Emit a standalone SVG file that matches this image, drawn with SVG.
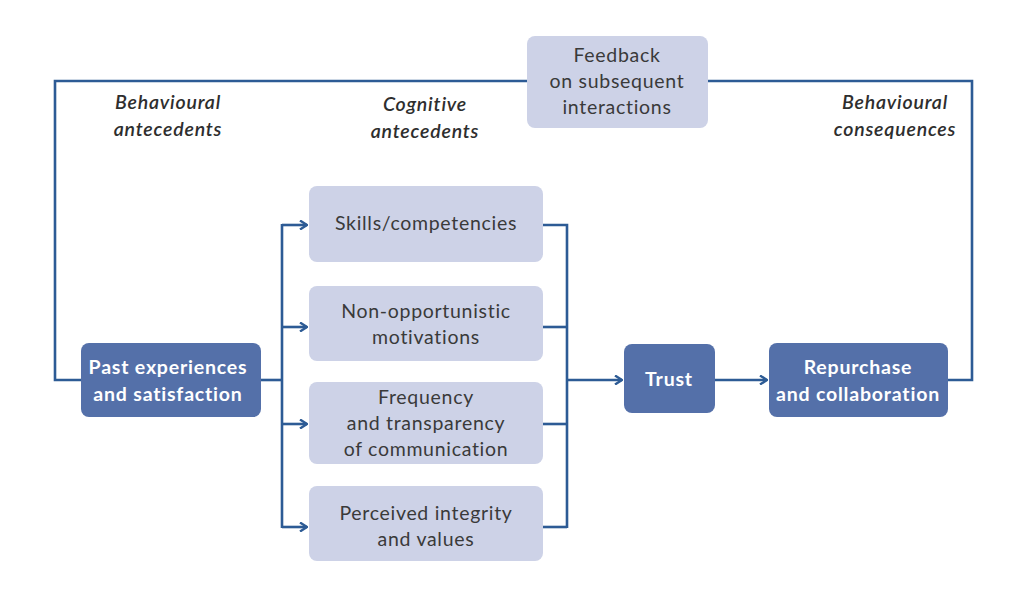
<svg xmlns="http://www.w3.org/2000/svg" width="1024" height="597" viewBox="0 0 1024 597">
  <style>
    .light { fill: #cdd2e7; }
    .dark { fill: #5470a9; }
    .txt { font-family: Lato, "Open Sans", sans-serif; font-size: 19.5px; letter-spacing: 0.7px; fill: #3a3a3a; text-anchor: middle; }
    .wtxt { font-family: Lato, "Open Sans", sans-serif; font-size: 19.5px; letter-spacing: 0.8px; font-weight: bold; fill: #ffffff; text-anchor: middle; }
    .head { font-family: Lato, "Open Sans", sans-serif; font-size: 19.5px; letter-spacing: 0.8px; font-style: italic; font-weight: 600; fill: #2e2e2e; text-anchor: middle; }
    .wire { fill: none; stroke: #2d5b95; stroke-width: 2.6; }
  </style>
  <defs>
    <marker id="chev" viewBox="0 0 10 10" refX="9" refY="5" markerWidth="10" markerHeight="10" markerUnits="userSpaceOnUse" orient="auto">
      <polyline points="2,0.5 9,5 2,9.5" fill="none" stroke="#2d5b95" stroke-width="2.4"/>
    </marker>
  </defs>

  <!-- Connectors -->
  <g id="connectors">
    <!-- feedback loop -->
    <polyline class="wire" points="81,380 55,380 55,81 527,81"/>
    <polyline class="wire" points="708,81 972,81 972,380 948,380"/>
    <!-- fan-out from past experiences -->
    <line class="wire" x1="261" y1="380" x2="282" y2="380"/>
    <line class="wire" x1="282" y1="224" x2="282" y2="528"/>
    <line class="wire" x1="282" y1="225" x2="307" y2="225" marker-end="url(#chev)"/>
    <line class="wire" x1="282" y1="327" x2="307" y2="327" marker-end="url(#chev)"/>
    <line class="wire" x1="282" y1="424" x2="307" y2="424" marker-end="url(#chev)"/>
    <line class="wire" x1="282" y1="527" x2="307" y2="527" marker-end="url(#chev)"/>
    <!-- fan-in to trust -->
    <polyline class="wire" points="543,225 567,225 567,528"/>
    <line class="wire" x1="543" y1="327" x2="567" y2="327"/>
    <line class="wire" x1="543" y1="424" x2="567" y2="424"/>
    <line class="wire" x1="543" y1="527" x2="567" y2="527"/>
    <line class="wire" x1="567" y1="380" x2="622" y2="380" marker-end="url(#chev)"/>
    <line class="wire" x1="715" y1="380" x2="767" y2="380" marker-end="url(#chev)"/>
  </g>

  <!-- Column headings -->
  <g id="headings">
    <text class="head" x="168" y="109">Behavioural</text>
    <text class="head" x="168" y="136">antecedents</text>
    <text class="head" x="425" y="111">Cognitive</text>
    <text class="head" x="425" y="138">antecedents</text>
    <text class="head" x="895" y="109">Behavioural</text>
    <text class="head" x="895" y="136">consequences</text>
  </g>

  <g id="feedback">
    <rect class="light" x="527" y="36" width="181" height="92" rx="8"/>
    <text class="txt" x="617" y="62">Feedback</text>
    <text class="txt" x="617" y="88">on subsequent</text>
    <text class="txt" x="617" y="114">interactions</text>
  </g>

  <g id="past">
    <rect class="dark" x="81" y="343" width="180" height="74" rx="8"/>
    <text class="wtxt" x="168" y="374">Past experiences</text>
    <text class="wtxt" x="168" y="401">and satisfaction</text>
  </g>

  <g id="skills">
    <rect class="light" x="309" y="186" width="234" height="76" rx="8"/>
    <text class="txt" x="426" y="230">Skills/competencies</text>
  </g>

  <g id="motivations">
    <rect class="light" x="309" y="286" width="234" height="75" rx="8"/>
    <text class="txt" x="426" y="318">Non-opportunistic</text>
    <text class="txt" x="426" y="344">motivations</text>
  </g>

  <g id="communication">
    <rect class="light" x="309" y="382" width="234" height="82" rx="8"/>
    <text class="txt" x="426" y="404">Frequency</text>
    <text class="txt" x="426" y="430">and transparency</text>
    <text class="txt" x="426" y="456">of communication</text>
  </g>

  <g id="integrity">
    <rect class="light" x="309" y="486" width="234" height="75" rx="8"/>
    <text class="txt" x="426" y="520">Perceived integrity</text>
    <text class="txt" x="426" y="546">and values</text>
  </g>

  <g id="trust">
    <rect class="dark" x="624" y="344" width="91" height="69" rx="8"/>
    <text class="wtxt" x="669" y="386">Trust</text>
  </g>

  <g id="repurchase">
    <rect class="dark" x="769" y="343" width="179" height="74" rx="8"/>
    <text class="wtxt" x="858" y="374">Repurchase</text>
    <text class="wtxt" x="858" y="401">and collaboration</text>
  </g>
</svg>
